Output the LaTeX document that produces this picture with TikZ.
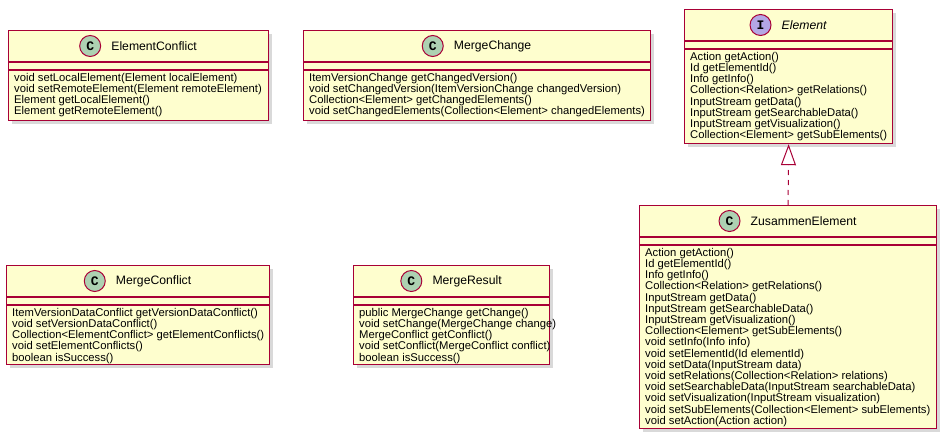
\documentclass[tikz,border=0pt]{standalone}
\usepackage{fontspec}
\setmainfont{Liberation Sans}
\newfontfamily\spotfont{Liberation Mono}
\usetikzlibrary{positioning,arrows.meta,shadows}
\definecolor{umlred}{HTML}{A80036}
\definecolor{umlfill}{HTML}{FEFECE}
\definecolor{cspot}{HTML}{ADD1B2}
\definecolor{ispot}{HTML}{B4A7E5}
\tikzset{
  umlline/.style={draw=umlred, line width=1.2pt},
  umlbox/.style={umlline, fill=umlfill, anchor=north west, inner sep=0pt,
    drop shadow={opacity=0.3, shadow xshift=3pt, shadow yshift=-3pt}},
  umltitle/.style={inner sep=0pt, font=\fontsize{12.2}{14}\selectfont},
  umlspot/.style={circle, draw=umlred, line width=1pt, minimum size=21pt, inner sep=0pt,
    font=\spotfont\bfseries\fontsize{13}{13}\selectfont},
  umlmembers/.style={anchor=north west, inner sep=0pt, align=left,
    font=\fontsize{11.25}{11.2}\selectfont}
}
\newcommand\umlclass[9]{%
  \node[umlbox, minimum width=#4pt, minimum height=#5pt] (#1) at (#2,#3) {};
  \node[umltitle] (#1-title) at ([xshift=15.5pt, yshift=-16pt]#1.north) {#8};
  \node[umlspot, fill=#7, left=10pt of #1-title] (#1-spot) {#6};
  \draw[umlline] ([yshift=-32pt]#1.north west) -- ([yshift=-32pt]#1.north east);
  \draw[umlline] ([yshift=-40pt]#1.north west) -- ([yshift=-40pt]#1.north east);
  \node[umlmembers] (#1-members) at ([xshift=6pt, yshift=-43pt]#1.north west) {#9};
}
\begin{document}
\begin{tikzpicture}[x=1pt, y=-1pt]
  \useasboundingbox (0,0) rectangle (947,438);
  \umlclass{econf}{8}{30}{260}{90}{C}{cspot}{ElementConflict}{void setLocalElement(Element localElement)\\void setRemoteElement(Element remoteElement)\\Element getLocalElement()\\Element getRemoteElement()}
  \umlclass{mchange}{303}{30}{347}{90}{C}{cspot}{MergeChange}{ItemVersionChange getChangedVersion()\\void setChangedVersion(ItemVersionChange changedVersion)\\Collection<Element> getChangedElements()\\void setChangedElements(Collection<Element> changedElements)}
  \umlclass{elem}{684}{9}{208}{134}{I}{ispot}{\itshape Element}{Action getAction()\\Id getElementId()\\Info getInfo()\\Collection<Relation> getRelations()\\InputStream getData()\\InputStream getSearchableData()\\InputStream getVisualization()\\Collection<Element> getSubElements()}
  \umlclass{zel}{639}{205}{297}{223}{C}{cspot}{ZusammenElement}{Action getAction()\\Id getElementId()\\Info getInfo()\\Collection<Relation> getRelations()\\InputStream getData()\\InputStream getSearchableData()\\InputStream getVisualization()\\Collection<Element> getSubElements()\\void setInfo(Info info)\\void setElementId(Id elementId)\\void setData(InputStream data)\\void setRelations(Collection<Relation> relations)\\void setSearchableData(InputStream searchableData)\\void setVisualization(InputStream visualization)\\void setSubElements(Collection<Element> subElements)\\void setAction(Action action)}
  \umlclass{mconf}{6}{265}{263}{99}{C}{cspot}{MergeConflict}{ItemVersionDataConflict getVersionDataConflict()\\void setVersionDataConflict()\\Collection<ElementConflict> getElementConflicts()\\void setElementConflicts()\\boolean isSuccess()}
  \umlclass{mres}{353}{265}{196}{99}{C}{cspot}{MergeResult}{public MergeChange getChange()\\void setChange(MergeChange change)\\MergeConflict getConflict()\\void setConflict(MergeConflict conflict)\\boolean isSuccess()}
  \draw[umlline, line width=1pt, dash pattern=on 5pt off 5pt, -{Triangle[open, length=21pt, width=15pt]}] (zel.north) -- (elem.south);
\end{tikzpicture}
\end{document}
